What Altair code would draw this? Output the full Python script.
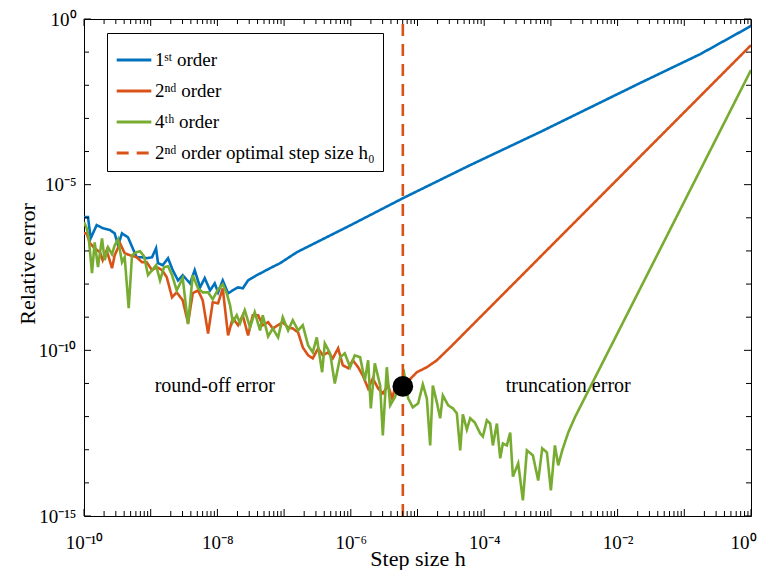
import altair as alt
import pandas as pd

FONT = "Liberation Serif"

series_names = ["1ˢᵗ order", "2ⁿᵈ order", "4ᵗʰ order", "2ⁿᵈ order optimal step size h₀"]
series_colors = ["#0072BD", "#D95319", "#77AC30", "#D95319"]

# log10(h) and log10(relative error)
blue_lh = [-10.00, -9.94, -9.90, -9.81, -9.72, -9.61, -9.54, -9.49, -9.43, -9.34, -9.27, -9.21,
           -9.13, -9.06, -8.98, -8.92, -8.89, -8.82, -8.74, -8.67, -8.59, -8.52, -8.41, -8.34,
           -8.26, -8.19, -8.11, -8.04, -7.99, -7.92, -7.84, -7.77, -7.69, -7.62, -7.54, -7.41,
           -7.32, -7.21, -7.06, -6.81, -6.01, -5.22, -4.21, -3.16, -1.66, -0.76, 0.00]
blue_le = [-5.98, -5.98, -6.62, -6.22, -6.31, -6.37, -6.47, -6.83, -6.47, -6.59, -6.92, -7.19,
           -7.19, -7.22, -7.19, -6.92, -7.37, -7.43, -7.22, -7.58, -7.89, -7.73, -7.98, -7.58,
           -8.10, -7.82, -8.19, -7.98, -8.25, -7.89, -8.28, -8.19, -8.10, -8.13, -7.89, -7.73,
           -7.64, -7.52, -7.37, -7.04, -6.23, -5.41, -4.41, -3.41, -1.93, -1.06, -0.21]

orange_lh = [-10.00, -9.96, -9.91, -9.84, -9.76, -9.72, -9.66, -9.58, -9.54, -9.46, -9.39, -9.31,
             -9.21, -9.13, -9.06, -8.98, -8.91, -8.83, -8.76, -8.68, -8.61, -8.52, -8.44, -8.37,
             -8.29, -8.22, -8.14, -8.07, -7.99, -7.92, -7.84, -7.77, -7.69, -7.62, -7.54, -7.47,
             -7.39, -7.32, -7.24, -7.17, -7.09, -7.02, -6.94, -6.87, -6.79, -6.72, -6.64, -6.57,
             -6.49, -6.42, -6.34, -6.27, -6.19, -6.12, -6.04, -5.97, -5.89, -5.82, -5.74, -5.67,
             -5.59, -5.52, -5.44, -5.38, -5.34, -5.23, -5.01, -4.86, -4.71, -4.51, -2.26, 0.00]
orange_le = [-6.47, -6.47, -6.77, -6.92, -7.04, -7.28, -6.98, -7.52, -7.13, -6.77, -7.07, -7.13,
             -7.19, -7.34, -7.34, -7.58, -7.49, -7.58, -7.79, -8.40, -8.25, -8.49, -9.18, -8.28,
             -8.19, -8.49, -9.49, -8.55, -8.58, -8.13, -9.55, -9.03, -9.24, -8.94, -9.55, -8.94,
             -8.94, -9.24, -9.15, -9.34, -9.24, -9.15, -9.31, -9.34, -9.46, -9.91, -10.15, -10.24,
             -9.94, -10.15, -10.06, -10.24, -9.94, -10.45, -10.54, -10.30, -10.51, -10.76, -11.15, -10.85,
             -11.15, -11.30, -11.06, -11.45, -11.15, -11.12, -10.66, -10.51, -10.30, -9.91, -5.36, -0.79]

green_lh = [-10.00, -9.96, -9.93, -9.88, -9.84, -9.79, -9.73, -9.69, -9.64, -9.58, -9.54, -9.49,
            -9.43, -9.39, -9.33, -9.28, -9.22, -9.16, -9.10, -9.04, -8.98, -8.92, -8.86, -8.80,
            -8.74, -8.68, -8.61, -8.52, -8.44, -8.37, -8.29, -8.22, -8.14, -8.07, -7.99, -7.92,
            -7.86, -7.81, -7.77, -7.71, -7.66, -7.59, -7.51, -7.44, -7.36, -7.32, -7.24, -7.17,
            -7.09, -7.02, -6.94, -6.87, -6.79, -6.72, -6.64, -6.57, -6.51, -6.43, -6.39, -6.31,
            -6.24, -6.16, -6.09, -6.01, -5.94, -5.86, -5.79, -5.74, -5.70, -5.64, -5.56, -5.52,
            -5.46, -5.41, -5.34, -5.26, -5.20, -5.14, -5.07, -4.99, -4.92, -4.86, -4.81, -4.77,
            -4.71, -4.66, -4.62, -4.54, -4.47, -4.41, -4.36, -4.32, -4.26, -4.21, -4.14, -4.06,
            -4.02, -3.96, -3.91, -3.87, -3.81, -3.76, -3.72, -3.66, -3.61, -3.57, -3.49, -3.42,
            -3.36, -3.27, -3.19, -3.13, -3.06, -3.00, -2.94, -2.89, -2.83, -2.74, -2.64, -0.99, 0.00]
green_le = [-6.13, -6.31, -6.59, -7.67, -6.74, -7.49, -6.62, -7.28, -6.89, -7.10, -6.83, -6.65,
            -7.34, -7.19, -8.73, -7.13, -7.04, -7.01, -7.16, -7.73, -7.58, -7.43, -7.89, -7.49,
            -7.46, -7.73, -8.19, -7.82, -9.21, -7.73, -8.13, -8.25, -8.25, -8.46, -8.16, -8.01,
            -8.28, -8.64, -9.15, -8.94, -9.18, -8.79, -9.31, -8.85, -9.40, -8.94, -9.58, -9.34,
            -9.61, -9.00, -9.40, -9.09, -9.40, -9.24, -9.85, -10.06, -9.61, -10.66, -9.79, -10.09,
            -11.00, -10.21, -10.09, -10.51, -10.15, -10.21, -10.91, -10.30, -11.75, -10.39, -11.06, -12.57,
            -10.51, -11.66, -11.42, -11.00, -10.69, -11.45, -11.72, -11.60, -11.03, -11.45, -12.87, -11.06,
            -11.57, -12.05, -11.36, -11.66, -11.75, -11.90, -13.02, -11.93, -12.39, -12.05, -12.18, -12.51,
            -12.60, -12.11, -12.21, -12.87, -12.21, -13.26, -12.81, -12.87, -12.48, -13.81, -13.41, -14.53,
            -13.02, -13.17, -13.93, -12.96, -13.08, -14.23, -12.87, -13.47, -13.02, -12.48, -12.02, -5.47, -1.54]

h0_exp = -5.22
dot_err_exp = -11.09

annot_text = ["round-off error", "truncation error"]
annot_lh = [-8.04, -2.74]
annot_le = [-11.08, -11.08]

x_label_exps = [-10, -8, -6, -4, -2, 0]
x_labels = ["10⁻¹⁰", "10⁻⁸", "10⁻⁶", "10⁻⁴", "10⁻²", "10⁰"]
y_label_exps = [0, -5, -10, -15]
y_labels = ["10⁰", "10⁻⁵", "10⁻¹⁰", "10⁻¹⁵"]

W, H = 667, 497
MAJ, MIN = 7, 5

rows = []
for name, lh, le in [(series_names[0], blue_lh, blue_le),
                     (series_names[1], orange_lh, orange_le),
                     (series_names[2], green_lh, green_le)]:
    for a, b in zip(lh, le):
        rows.append({"series": name, "h": 10 ** a, "err": 10 ** b})
lines_df = pd.DataFrame(rows)

xs = alt.Scale(type="log", domain=[1e-10, 1], nice=False)
ys = alt.Scale(type="log", domain=[1e-15, 1], nice=False)
color = alt.Color("series:N", scale=alt.Scale(domain=series_names, range=series_colors),
                  legend=alt.Legend(title=None))
dash = alt.StrokeDash("series:N", scale=alt.Scale(domain=series_names,
                                                  range=[[1, 0], [1, 0], [1, 0], [12, 8]]),
                      legend=alt.Legend(title=None))


def lab_expr(exps, labels):
    e = "round(log(datum.value)/LN10)"
    s = "''"
    for ex, lb in zip(reversed(exps), reversed(labels)):
        s = f"({e} == {ex} ? '{lb}' : {s})"
    return s


x_axis = alt.Axis(values=[10.0 ** e for e in x_label_exps], labelExpr=lab_expr(x_label_exps, x_labels),
                  title="Step size h", ticks=False, domain=False, grid=False,
                  labelPadding=17, labelFlush=False, labelOverlap=False, labelBound=False,
                  labelOffset={"condition": {"test": "datum.value > 0.5", "value": -8}, "value": 0},
                  titleX=W / 2, titleY=49, titleBaseline="alphabetic")
y_axis = alt.Axis(values=[10.0 ** e for e in y_label_exps], labelExpr=lab_expr(y_label_exps, y_labels),
                  title="Relative error", ticks=False, domain=False, grid=False,
                  labelPadding=8, labelFlush=False, labelOverlap=False, labelBound=False,
                  titleX=-57, titleY=H / 2 - 4, titleBaseline="middle")


def X(field="h"):
    return alt.X(f"{field}:Q", scale=xs, axis=x_axis)


def Y(field="err"):
    return alt.Y(f"{field}:Q", scale=ys, axis=y_axis)


lines = alt.Chart(lines_df).mark_line(strokeWidth=2.6, clip=True).encode(
    x=X(), y=Y(), color=color, strokeDash=dash,
)

rule_df = pd.DataFrame({"series": [series_names[3]], "h": [10 ** h0_exp], "err": [1e-15], "err2": [1.0]})
vline = alt.Chart(rule_df).mark_rule(strokeWidth=2.6).encode(
    x=X(), y=Y(), y2="err2:Q", color=color, strokeDash=dash,
)

dot_df = pd.DataFrame({"h": [10 ** h0_exp], "err": [10 ** dot_err_exp]})
dot = alt.Chart(dot_df).mark_circle(size=430, color="black", opacity=1).encode(x=X(), y=Y())

annot_df = pd.DataFrame({"t": annot_text, "h": [10 ** v for v in annot_lh], "err": [10 ** v for v in annot_le]})
annots = alt.Chart(annot_df).mark_text(font=FONT, fontSize=20, color="black").encode(
    x=X(), y=Y(), text="t:N")

# inward ticks on all four sides
x_major = [10.0 ** k for k in range(-10, 1)]
x_minor = [m * 10.0 ** k for k in range(-10, 0) for m in range(2, 10)]
y_major = [10.0 ** k for k in y_label_exps]
y_minor = [10.0 ** k for k in range(-14, 0) if k not in y_label_exps]

tick_layers = []
for vals, ln in [(x_major, MAJ), (x_minor, MIN)]:
    d = pd.DataFrame({"h": vals})
    base = alt.Chart(d).mark_rule(color="black", strokeWidth=1)
    tick_layers.append(base.encode(x=X(), y=alt.value(H), y2=alt.value(H - ln)))
    tick_layers.append(base.encode(x=X(), y=alt.value(0), y2=alt.value(ln)))
for vals, ln in [(y_major, MAJ), (y_minor, MIN)]:
    d = pd.DataFrame({"err": vals})
    base = alt.Chart(d).mark_rule(color="black", strokeWidth=1)
    tick_layers.append(base.encode(y=Y(), x=alt.value(0), x2=alt.value(ln)))
    tick_layers.append(base.encode(y=Y(), x=alt.value(W), x2=alt.value(W - ln)))

chart = alt.layer(lines, vline, dot, annots, *tick_layers).properties(
    width=W, height=H,
    autosize=alt.AutoSizeParams(type="none"),
    padding={"left": 76, "top": 11, "right": 7, "bottom": 54},
).configure_view(stroke="black", strokeWidth=1).configure_axis(
    labelFont=FONT, labelFontSize=19, labelColor="black",
    titleFont=FONT, titleFontSize=22, titleFontWeight="normal", titleColor="black",
).configure_legend(
    orient="none", legendX=23, legendY=14,
    labelFont=FONT, labelFontSize=19, labelColor="black",
    symbolType="stroke", symbolSize=1200, symbolStrokeWidth=3,
    strokeColor="black", fillColor="white", padding=8, rowPadding=2,
    labelOffset=2, labelLimit=400,
)

chart.save("out.html", embed_options={"renderer": "svg", "actions": False})
